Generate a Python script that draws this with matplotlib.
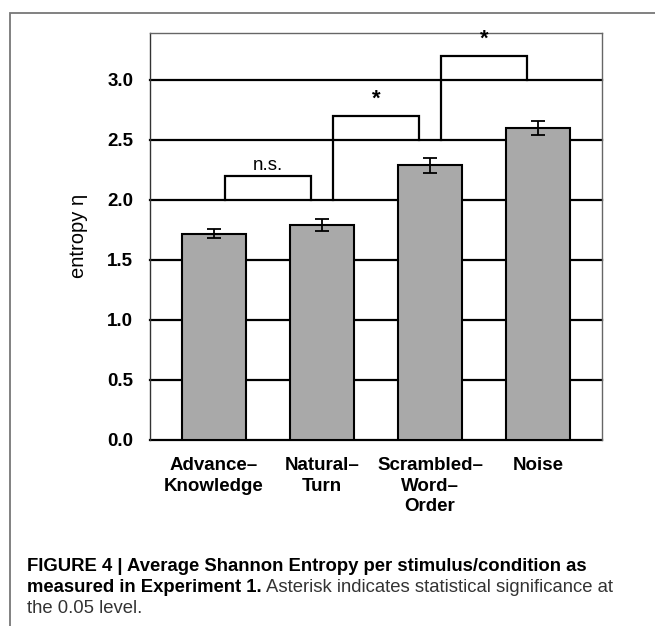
import matplotlib
matplotlib.use("Agg")
import matplotlib.pyplot as plt
from matplotlib.patches import Rectangle

plt.rcParams['font.family'] = ['Liberation Sans', 'DejaVu Sans']

categories = ["Advance–\nKnowledge", "Natural–\nTurn", "Scrambled–\nWord–\nOrder", "Noise"]
means = [1.72, 1.79, 2.29, 2.60]
errors = [0.035, 0.05, 0.064, 0.06]
yticks = [0.0, 0.5, 1.0, 1.5, 2.0, 2.5, 3.0]
# significance brackets: (x_left, x_right, y_left_base, y_right_base, y_top, label)
brackets = [
    (0.1, 0.9, 2.0, 2.0, 2.2, "n.s."),
    (1.1, 1.9, 2.0, 2.5, 2.7, "*"),
    (2.1, 2.9, 2.5, 3.0, 3.2, "*"),
]
label_y = [2.215, 2.75, 3.25]

W, H, DPI = 655, 626, 100
fig = plt.figure(figsize=(W / DPI, H / DPI), dpi=DPI)
ax = fig.add_axes([150 / W, 1 - 440 / H, (602 - 150) / W, (440 - 32.7) / H])

x = list(range(len(categories)))
ax.set_axisbelow(True)
for yv in yticks:
    ax.axhline(yv, color='black', lw=1.6, zorder=0.5, clip_on=False)
ax.bar(x, means, width=0.6, color='#a9a9a9', edgecolor='black', linewidth=1.5, zorder=2)
ax.errorbar(x, means, yerr=errors, fmt='none', ecolor='black', elinewidth=1.3,
            capsize=5, capthick=1.3, zorder=3)

for (x1, x2, yl, yr, yt, lab), ly in zip(brackets, label_y):
    ax.plot([x1, x1, x2, x2], [yl, yt, yt, yr], color='black', lw=1.6, zorder=2.5,
            solid_joinstyle='miter', clip_on=False)
    if lab == "*":
        ax.text((x1 + x2) / 2, ly, lab, ha='center', va='bottom', fontsize=16,
                fontweight='bold', clip_on=False)
    else:
        ax.text((x1 + x2) / 2, ly, lab, ha='center', va='bottom', fontsize=13.5)

ax.set_xlim(-0.593, 3.593)
ax.set_ylim(0, 3.394)
ax.set_yticks(yticks)
ax.set_yticklabels([f"{v:.1f}" for v in yticks], fontsize=13.5, fontweight='bold')
ax.set_xticks(x)
ax.set_xticklabels(categories, fontsize=13.5, fontweight='bold', linespacing=1.25)
ax.tick_params(axis='both', length=0)
ax.tick_params(axis='y', pad=12)
ax.tick_params(axis='x', pad=12.5)
for name, s in ax.spines.items():
    s.set_color('#333333' if name == 'left' else '#666666')
    s.set_linewidth(1.0)
ax.spines['bottom'].set_visible(False)

fig.text(78 / W, 1 - 236 / H, "entropy η", rotation=90, ha='center', va='center', fontsize=14.5)

# outer frame
fig.patches.append(Rectangle((10 / W, -0.1), 1.2, 1 - 13.3 / H + 0.1,
                             transform=fig.transFigure, fill=False,
                             edgecolor='#777777', linewidth=1.3))

cap_x = 27 / W
cfs = 13.3
fig.text(cap_x, 1 - 571 / H, "FIGURE 4 | Average Shannon Entropy per stimulus/condition as",
         fontsize=cfs, fontweight='bold', va='baseline', ha='left')
t2 = fig.text(cap_x, 1 - 592 / H, "measured in Experiment 1.", fontsize=cfs,
              fontweight='bold', va='baseline', ha='left')
fig.canvas.draw()
r = fig.canvas.get_renderer()
bb = t2.get_window_extent(r)
fig.text((bb.x1 + 4) / W, 1 - 592 / H, "Asterisk indicates statistical significance at",
         fontsize=cfs, color='#333333', va='baseline', ha='left')
fig.text(cap_x, 1 - 613 / H, "the 0.05 level.", fontsize=cfs, color='#333333',
         va='baseline', ha='left')

fig.savefig("out.png", dpi=DPI)
